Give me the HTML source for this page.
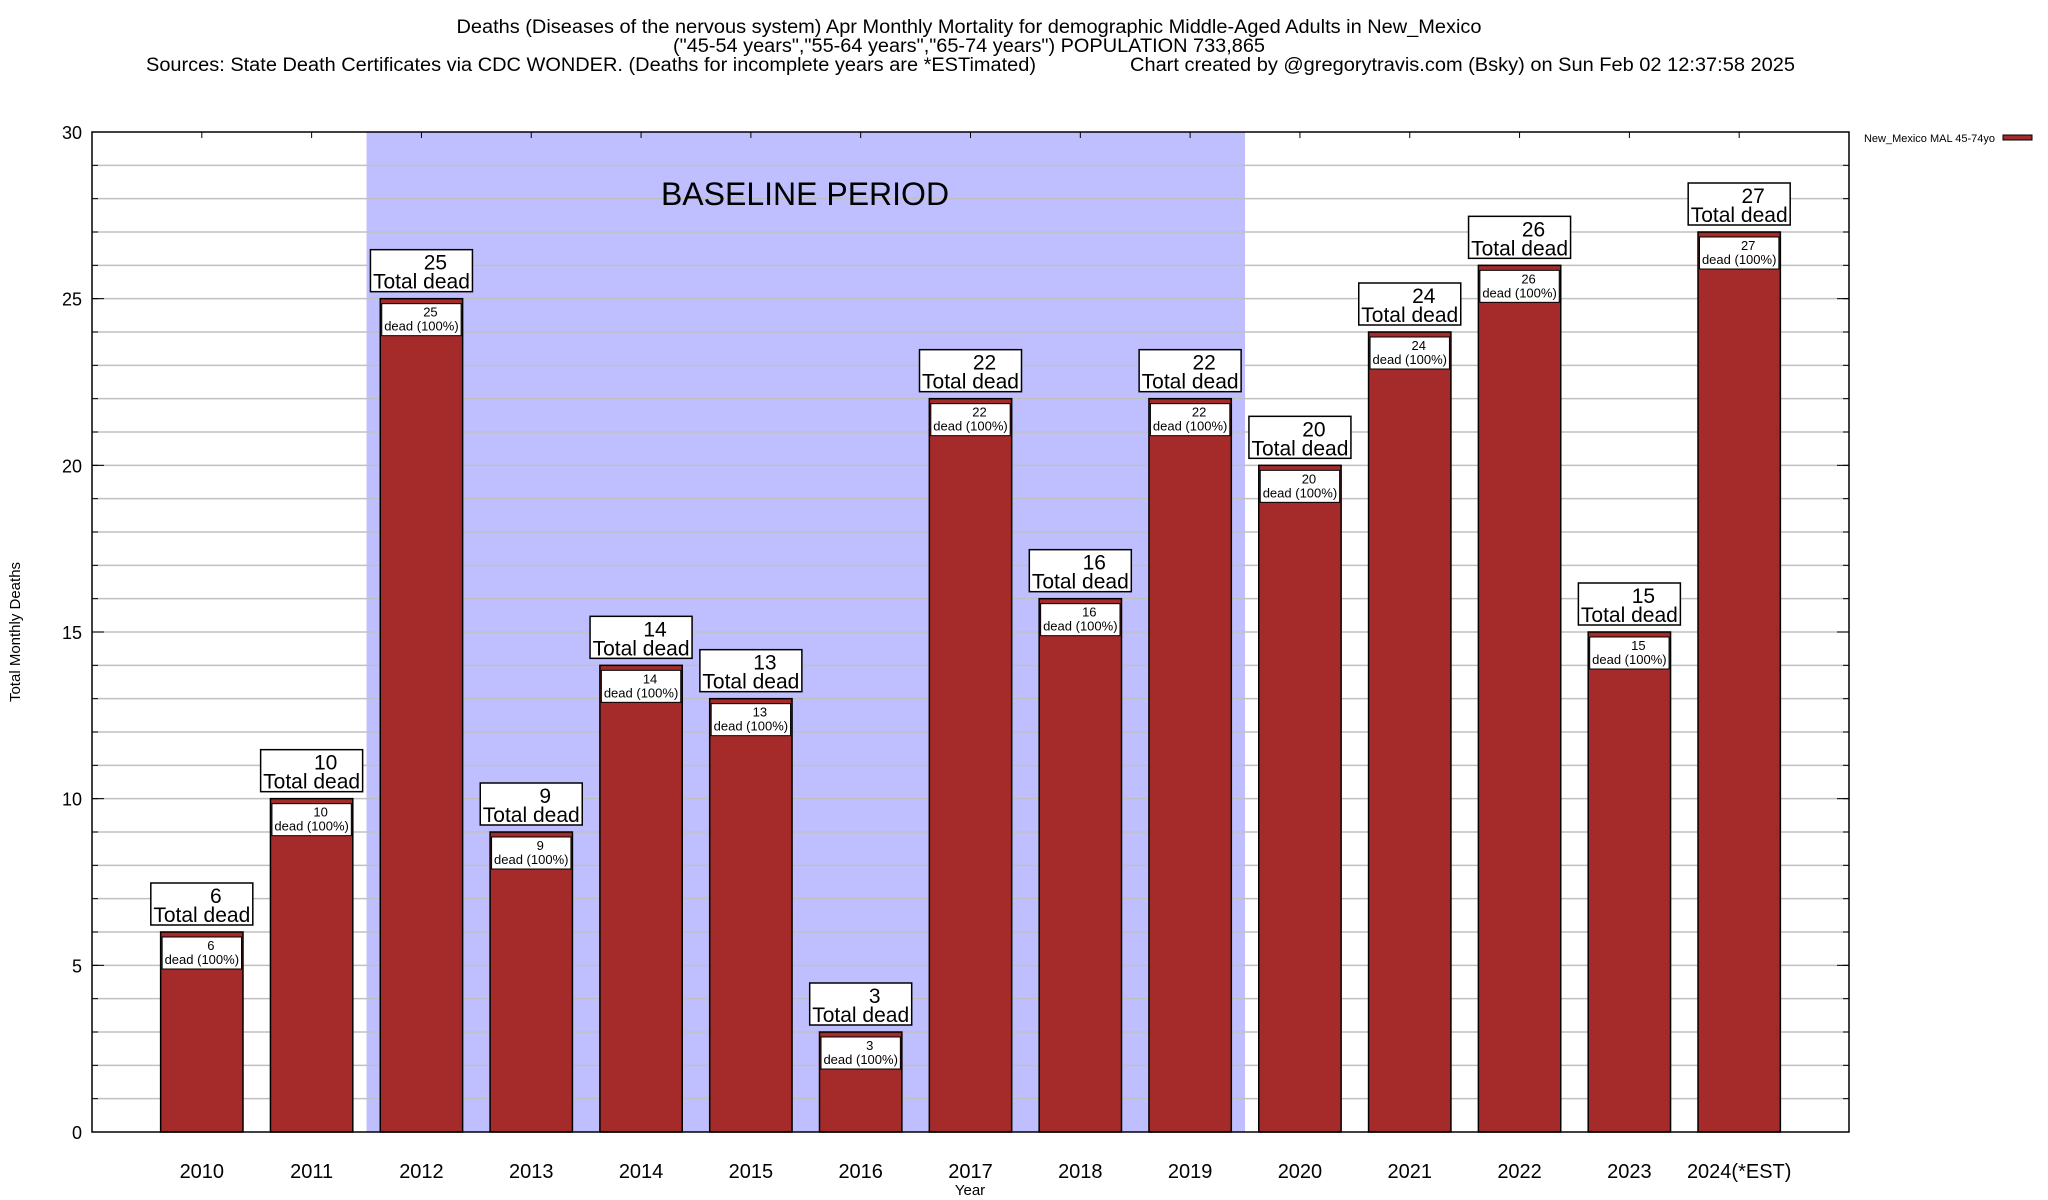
<!DOCTYPE html>
<html><head><meta charset="utf-8"><style>
body{margin:0;background:#fff}
svg{display:block;font-family:"Liberation Sans",Arial,sans-serif}
</style></head><body>
<svg id="chart" width="2048" height="1200" viewBox="0 0 2048 1200" xmlns="http://www.w3.org/2000/svg">
<g>
<text x="969" y="33" font-size="19" text-anchor="middle" textLength="1025" lengthAdjust="spacingAndGlyphs">Deaths (Diseases of the nervous system) Apr Monthly Mortality for demographic Middle-Aged Adults in New_Mexico</text>
<text x="969" y="52" font-size="19" text-anchor="middle" textLength="592" lengthAdjust="spacingAndGlyphs">("45-54 years","55-64 years","65-74 years") POPULATION 733,865</text>
<text x="146" y="71" font-size="19" textLength="890" lengthAdjust="spacingAndGlyphs">Sources: State Death Certificates via CDC WONDER. (Deaths for incomplete years are *ESTimated)</text>
<text x="1130" y="71" font-size="19" textLength="665" lengthAdjust="spacingAndGlyphs">Chart created by @gregorytravis.com (Bsky) on Sun Feb 02 12:37:58 2025</text>
</g>
<g id="plot"></g>
<g>
<text x="1995" y="142" font-size="11" text-anchor="end">New_Mexico MAL 45-74yo</text>
<rect x="2003" y="135" width="29" height="5" fill="#a52a2a" stroke="#000" stroke-width="1"/>
</g>
<text x="0" y="0" font-size="15" text-anchor="middle" transform="translate(20,632) rotate(-90)">Total Monthly Deaths</text>
<text x="970" y="1195" font-size="15" text-anchor="middle">Year</text>
</svg>
<script>
const categories=["2010","2011","2012","2013","2014","2015","2016","2017","2018","2019","2020","2021","2022","2023","2024(*EST)"];
const values=[6,10,25,9,14,13,3,22,16,22,20,24,26,15,27];
const yTicks=[0,5,10,15,20,25,30];
const baselineStart=2, baselineEnd=9;
const NS="http://www.w3.org/2000/svg";
const L=92,R=1849,T=132,B=1132;
const xS=i=>L+(i+1)*(R-L)/16;
const yS=v=>B-(v/30)*(B-T);
const g=document.getElementById('plot');
function mk(tag,attrs,parent){const e=document.createElementNS(NS,tag);for(const k in attrs)e.setAttribute(k,attrs[k]);(parent||g).appendChild(e);return e;}
const unit=(R-L)/16;
const band=mk('rect',{x:xS(baselineStart)-unit/2,y:T,width:(baselineEnd-baselineStart+1)*unit,height:B-T,fill:'#bfbfff'});


for(let v=1;v<30;v++){const l=mk('line',{x1:L,x2:R,y1:yS(v),y2:yS(v),stroke:'#c0c0c0','stroke-width':1.5});


mk('line',{x1:L,x2:L+6,y1:yS(v),y2:yS(v),stroke:'#000'});mk('line',{x1:R-6,x2:R,y1:yS(v),y2:yS(v),stroke:'#000'});}
const bt=mk('text',{x:805,y:205,'font-size':32,'text-anchor':'middle'});
bt.textContent='BASELINE PERIOD';


yTicks.forEach(v=>{const t=mk('text',{x:82,y:yS(v)+7,'font-size':18,'text-anchor':'end'});t.textContent=v;


mk('line',{x1:L,x2:L+12,y1:yS(v),y2:yS(v),stroke:'#000'});mk('line',{x1:R-12,x2:R,y1:yS(v),y2:yS(v),stroke:'#000'});});
const bw=unit*0.75;
categories.forEach((c,i)=>{
 const cx=xS(i),v=values[i],top=yS(v);
 mk('line',{x1:cx,x2:cx,y1:T,y2:T+6,stroke:'#000'});
 const bar=mk('rect',{x:cx-bw/2,y:top,width:bw,height:B-top,fill:'#a52a2a',stroke:'#000','stroke-width':1.5});
 
 
 const ib=mk('rect',{x:cx-bw/2+1.5,y:top+5,width:bw-3,height:32,fill:'#fff',stroke:'#000','stroke-width':1});
 
 
 const t1=mk('text',{x:cx+9,y:top+18,'font-size':13,'text-anchor':'middle'});t1.textContent=v;
 const t2=mk('text',{x:cx,y:top+32,'font-size':13,'text-anchor':'middle'});t2.textContent='dead (100%)';
 const ob=mk('rect',{x:cx-51,y:top-49,width:102,height:42,fill:'#fff',stroke:'#000','stroke-width':1.5});
 
 
 const t3=mk('text',{x:cx+14,y:top-29,'font-size':21,'text-anchor':'middle'});t3.textContent=v;
 const t4=mk('text',{x:cx,y:top-10,'font-size':21,'text-anchor':'middle'});t4.textContent='Total dead';
 const xl=mk('text',{x:cx,y:1178,'font-size':20,'text-anchor':'middle'});xl.textContent=c;
 
 
});
const fr=mk('rect',{x:L,y:T,width:R-L,height:B-T,fill:'none',stroke:'#000','stroke-width':1.5});


</script>
</body></html>
